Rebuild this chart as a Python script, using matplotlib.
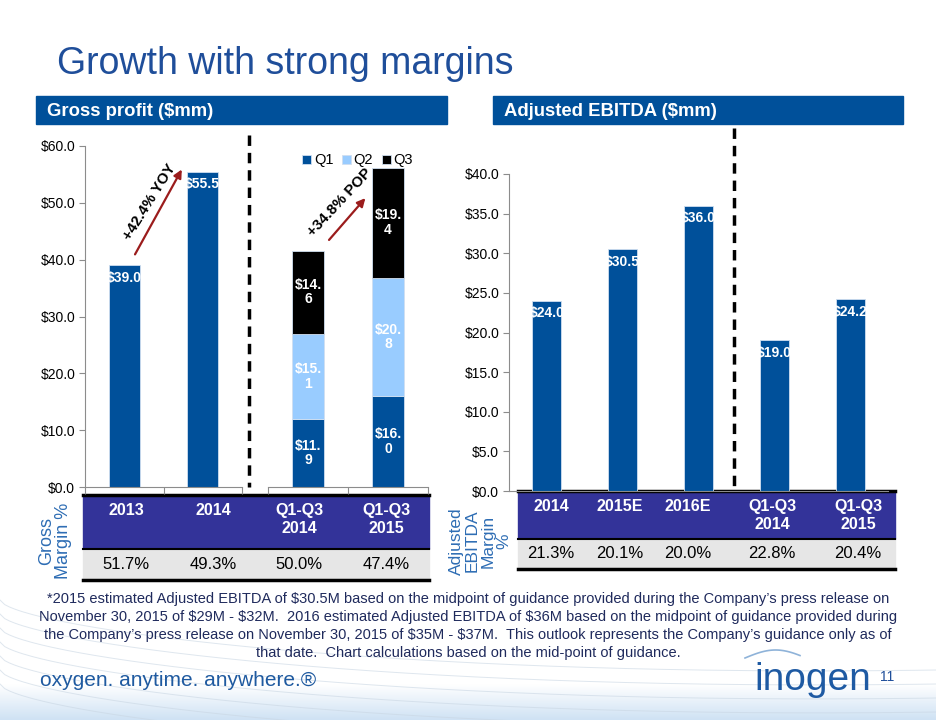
import numpy as np
import matplotlib
matplotlib.use('Agg')
from matplotlib import pyplot as plt
from matplotlib.patches import Rectangle
from matplotlib.colors import LinearSegmentedColormap

plt.rcParams['font.family'] = ['Liberation Sans', 'DejaVu Sans']
plt.rcParams['text.parse_math'] = False

# data
gp_years = ['2013', '2014']
gp_values = [39.0, 55.5]
gp_q_periods = ['Q1-Q3\n2014', 'Q1-Q3\n2015']
gp_q1 = [11.9, 16.0]
gp_q2 = [15.1, 20.8]
gp_q3 = [14.6, 19.4]
gp_margin_cols = ['2013', '2014', 'Q1-Q3\n2014', 'Q1-Q3\n2015']
gp_margins = ['51.7%', '49.3%', '50.0%', '47.4%']

eb_periods = ['2014', '2015E', '2016E', 'Q1-Q3\n2014', 'Q1-Q3\n2015']
eb_values = [24.0, 30.5, 36.0, 19.0, 24.2]
eb_margins = ['21.3%', '20.1%', '20.0%', '22.8%', '20.4%']

gp_ticks = [0, 10, 20, 30, 40, 50, 60]
eb_ticks = [0, 5, 10, 15, 20, 25, 30, 35, 40]

footnote = ("*2015 estimated Adjusted EBITDA of $30.5M based on the midpoint of guidance provided during the Company\u2019s press release on\n"
            "November 30, 2015 of $29M - $32M.  2016 estimated Adjusted EBITDA of $36M based on the midpoint of guidance provided during\n"
            "the Company\u2019s press release on November 30, 2015 of $35M - $37M.  This outlook represents the Company\u2019s guidance only as of\n"
            "that date.  Chart calculations based on the mid-point of guidance.")

BLUE = '#00509a'
LIGHT = '#99ccff'
TITLE = '#1f4e9a'
HEAD = '#333399'
ROWLAB = '#2e6db4'
GREY = '#8c8c8c'
RED = '#9b1c1c'

W, H = 936, 720
fig = plt.figure(figsize=(W / 100, H / 100), dpi=100)


def rect(x0, y0, x1, y1):
    return [x0 / W, 1 - y1 / H, (x1 - x0) / W, (y1 - y0) / H]


# background / decoration layer
bg = fig.add_axes([0, 0, 1, 1])
bg.set_xlim(0, W)
bg.set_ylim(H, 0)
bg.axis('off')
cmap = LinearSegmentedColormap.from_list('b', ['#ffffff', '#cfe2f4'])
grad = np.linspace(0, 1, 64).reshape(-1, 1)
bg.imshow(grad, extent=[0, W, 720, 684], aspect='auto', cmap=cmap, zorder=0)
xs = np.linspace(0, W, 200)
for k in range(7):
    bg.plot(xs, 600 + k * 14 + 110 * (xs / W) ** 0.6 - 40 * (xs / W) ** 2, color='#c9d6e3', lw=0.7, alpha=0.6, zorder=0)

bg.text(57, 64, 'Growth with strong margins', fontsize=27, color=TITLE, va='center')
for x0, x1, label in [(36, 447, 'Gross profit ($mm)'), (493, 903, 'Adjusted EBITDA ($mm)')]:
    bg.add_patch(Rectangle((x0, 96), x1 - x0, 28, color=BLUE, zorder=1))
    bg.text(x0 + 11, 111, label, color='white', fontsize=13.3, fontweight='bold',
            va='center', zorder=2)

# dashed separators
bg.plot([249, 249], [135, 487], color='black', lw=2.5, ls=(0, (3, 2)))
bg.plot([734, 734], [128, 491], color='black', lw=2.5, ls=(0, (3, 2)))


def style_axis(ax, ticks, left=True):
    ax.set_facecolor('none')
    for s in ['top', 'right']:
        ax.spines[s].set_visible(False)
    ax.spines['bottom'].set_color(GREY)
    ax.spines['left'].set_color(GREY)
    ax.spines['left'].set_visible(left)
    ax.set_ylim(ticks[0], ticks[-1])
    ax.set_yticks(ticks)
    if left:
        ax.set_yticklabels([f'${t:.1f}' for t in ticks], fontsize=10)
        ax.tick_params(axis='y', direction='out', length=4, color=GREY, pad=3)
    else:
        ax.tick_params(axis='y', left=False, labelleft=False)


def top_labels(ax, bars, vals):
    for b, v in zip(bars, vals):
        ax.annotate(f'${v:.1f}', (b.get_x() + b.get_width() / 2, v), xytext=(0, -9),
                    textcoords='offset points', ha='center', va='center',
                    color='white', fontweight='bold', fontsize=10)


# gross profit, annual
ax1 = fig.add_axes(rect(85, 146, 242, 487))
style_axis(ax1, gp_ticks)
x1 = np.arange(len(gp_years))
b1 = ax1.bar(x1, gp_values, width=0.4, color=BLUE, edgecolor='#d0dff0', lw=0.6)
ax1.set_xlim(-0.5, len(gp_years) - 0.5)
ax1.set_xticks(np.arange(len(gp_years) + 1) - 0.5)
ax1.set_xticklabels([])
ax1.tick_params(axis='x', direction='out', length=5, color=GREY)
top_labels(ax1, b1, gp_values)
ax1.annotate('', xy=(0.75, 56.3), xytext=(0.12, 40.5),
             arrowprops=dict(arrowstyle='-|>', color=RED, lw=1.6, mutation_scale=12), annotation_clip=False)
ax1.text(0.32, 50.2, '+42.4% YOY', rotation=58, ha='center', va='center',
         fontsize=10.8, fontweight='bold', clip_on=False)

# gross profit, year to date stacked
ax2 = fig.add_axes(rect(268, 146, 428, 487))
style_axis(ax2, gp_ticks, left=False)
x2 = np.arange(len(gp_q_periods))
bottoms = np.zeros(len(x2))
for vals, col, name in [(gp_q1, BLUE, 'Q1'), (gp_q2, LIGHT, 'Q2'), (gp_q3, 'black', 'Q3')]:
    bars = ax2.bar(x2, vals, width=0.4, bottom=bottoms, color=col, label=name,
                   edgecolor='#d0dff0', lw=0.6)
    ax2.bar_label(bars, labels=[f'${v:.1f}'.replace('.', '.\n') for v in vals],
                  label_type='center', color='white', fontweight='bold', fontsize=10,
                  linespacing=1.05)
    bottoms = bottoms + np.array(vals)
ax2.set_xlim(-0.5, len(x2) - 0.5)
ax2.set_xticks(np.arange(len(x2) + 1) - 0.5)
ax2.set_xticklabels([])
ax2.tick_params(axis='x', direction='out', length=5, color=GREY)
ax2.legend(loc='upper center', bbox_to_anchor=(0.56, 1.0), ncol=3, frameon=False,
           fontsize=10.5, handlelength=0.6, handleheight=0.6, handletextpad=0.2,
           columnspacing=0.6, borderpad=0)
ax2.annotate('', xy=(0.74, 51.2), xytext=(0.24, 43.1),
             arrowprops=dict(arrowstyle='-|>', color=RED, lw=1.6, mutation_scale=12), annotation_clip=False)
ax2.text(0.40, 50.0, '+34.8% POP', rotation=47, ha='center', va='center',
         fontsize=10.8, fontweight='bold', clip_on=False)

# adjusted EBITDA
ax3 = fig.add_axes(rect(509, 174, 888, 491))
style_axis(ax3, eb_ticks)
x3 = np.arange(len(eb_periods))
b3 = ax3.bar(x3, eb_values, width=0.38, color=BLUE, edgecolor='#d0dff0', lw=0.6)
ax3.set_xlim(-0.5, len(x3) - 0.5)
ax3.set_xticks([])
top_labels(ax3, b3, eb_values)


# margin tables
def margin_table(x0, x1, y0, y_mid, y1, cols, vals, centers):
    bg.add_patch(Rectangle((x0, y0), x1 - x0, y_mid - y0, color=HEAD, zorder=1))
    bg.add_patch(Rectangle((x0, y_mid), x1 - x0, y1 - y_mid, color='#e6e6e6', zorder=1))
    bg.plot([x0, x1], [y0, y0], color='black', lw=2.5, zorder=2)
    bg.plot([x0, x1], [y_mid, y_mid], color='black', lw=1.5, zorder=2)
    bg.plot([x0, x1], [y1, y1], color='black', lw=2.5, zorder=2)
    for c, lab, v in zip(centers, cols, vals):
        bg.text(c, y0 + 8, lab, color='white', fontweight='bold', fontsize=11.5,
                ha='center', va='top', linespacing=1.25, zorder=3)
        bg.text(c, (y_mid + y1) / 2, v, fontsize=12, ha='center', va='center', zorder=3)


margin_table(83, 429, 495, 549, 580, gp_margin_cols, gp_margins, [126, 213, 299, 386])
margin_table(518, 895, 491, 539, 569, eb_periods, eb_margins, [551, 620, 688, 772, 858])
bg.text(55, 541, 'Gross\nMargin %', rotation=90, color=ROWLAB, fontsize=13,
        ha='center', va='center', linespacing=0.95)
bg.text(480, 541, 'Adjusted\nEBITDA\nMargin\n%', rotation=90, color=ROWLAB, fontsize=12.5,
        ha='center', va='center', linespacing=1.05)

# footnote and footer
bg.text(468, 626, footnote, ha='center', va='center', fontsize=10.5, color='#1f2a5c',
        linespacing=1.35)
bg.text(40, 681, 'oxygen. anytime. anywhere.\u00ae', fontsize=15, color='#1f5aa0', va='center')
arc = np.linspace(0, 1, 50)
bg.plot(745 + 55 * arc, 658 - 8 * np.sin(np.pi * arc * 0.9), color='#8fb3d9', lw=1.2)
bg.text(754, 680, 'inogen', fontsize=28, color='#1e5aa3', va='center')
bg.text(880, 677, '11', fontsize=10, color=TITLE, va='center')

fig.savefig('out.png', dpi=100)
